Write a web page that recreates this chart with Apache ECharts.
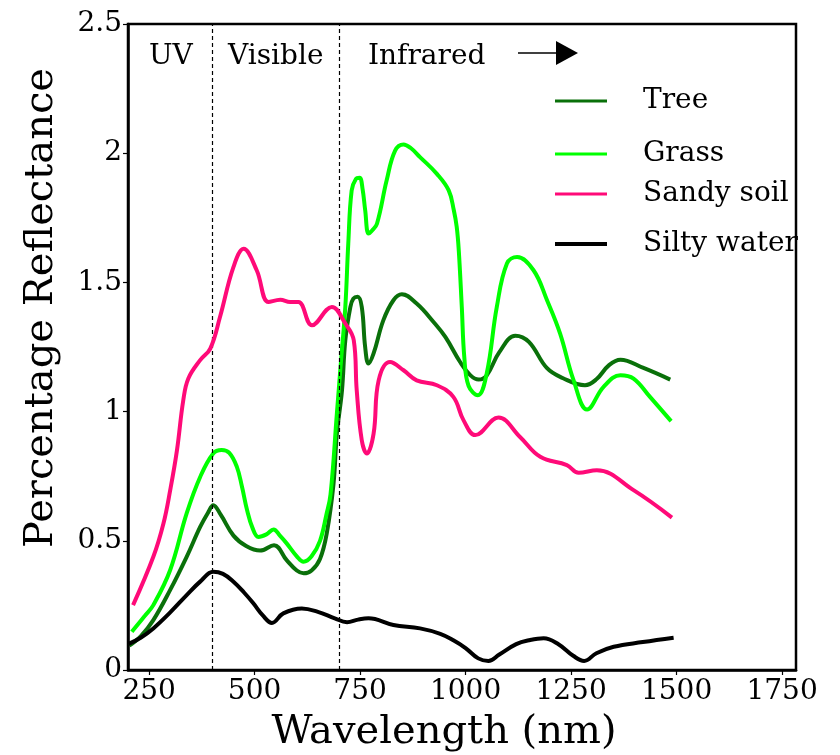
<!DOCTYPE html>
<html>
<head>
<meta charset="utf-8">
<script src="https://cdn.jsdelivr.net/npm/echarts@6/dist/echarts.min.js"></script>
<style>html,body{margin:0;padding:0;background:#fff}#c{width:840px;height:755px}</style>
</head>
<body>
<div id="c"></div>
<script>
const seriesNames = ['Tree', 'Grass', 'Sandy soil', 'Silty water'];
const seriesColors = ['#0a700a', '#00ff00', '#ff0a78', '#000000'];
const xTickValues = [250, 500, 750, 1000, 1250, 1500, 1750];
const yTickValues = [0, 0.5, 1, 1.5, 2, 2.5];
const regionLines = [400, 700];
const regionLabels = ['UV', 'Visible', 'Infrared'];

const treeWl = [203,230,260,300,339,371,390,402,420,450,480,513,546,576,600,616,635,655,671,687,695,707,715,727,734,744,754,762,770,782,805,829,849,884,924,952,987,1011,1031,1050,1080,1118,1150,1193,1230,1283,1310,1340,1367,1420,1485];
const treeVal = [0.094,0.13,0.193,0.31,0.438,0.554,0.61,0.638,0.6,0.52,0.48,0.462,0.483,0.425,0.385,0.374,0.385,0.43,0.529,0.72,0.915,1.08,1.276,1.405,1.437,1.444,1.405,1.25,1.186,1.225,1.353,1.431,1.454,1.418,1.347,1.289,1.192,1.141,1.124,1.14,1.23,1.294,1.27,1.168,1.13,1.102,1.125,1.18,1.201,1.17,1.124];

const grassWl = [209,240,260,300,339,371,402,422,440,458,470,482,495,509,528,545,560,576,600,616,635,655,670,680,695,705,715,722,730,740,749,756,762,770,778,790,813,833,853,870,892,932,960,972,979,984,991,997,1007,1029,1050,1074,1098,1122,1161,1193,1224,1256,1288,1327,1367,1398,1437,1487];
const grassVal = [0.148,0.21,0.251,0.387,0.606,0.747,0.838,0.851,0.84,0.786,0.71,0.62,0.55,0.515,0.525,0.544,0.52,0.49,0.44,0.419,0.44,0.5,0.6,0.68,0.993,1.2,1.405,1.65,1.856,1.9,1.905,1.86,1.78,1.689,1.7,1.727,1.895,2.01,2.034,2.02,1.985,1.92,1.856,1.78,1.714,1.62,1.405,1.21,1.1,1.063,1.147,1.405,1.573,1.598,1.547,1.431,1.302,1.121,1.008,1.096,1.141,1.128,1.057,0.963];

const soilWl = [212,260,284,300,316,331,343,371,395,418,450,474,505,533,561,584,604,636,683,715,735,742,754,766,782,794,821,853,884,932,971,995,1023,1078,1129,1177,1240,1268,1311,1398,1489];
const soilVal = [0.251,0.438,0.567,0.696,0.85,1.044,1.128,1.199,1.244,1.366,1.56,1.63,1.547,1.424,1.433,1.424,1.424,1.334,1.405,1.341,1.276,1.083,0.889,0.838,0.915,1.121,1.192,1.16,1.121,1.102,1.057,0.967,0.909,0.977,0.902,0.825,0.793,0.763,0.773,0.696,0.59];

const waterWl = [200,230,260,300,339,371,402,425,450,475,497,520,541,568,612,650,690,719,745,770,829,892,940,971,1000,1030,1054,1080,1120,1150,1185,1220,1255,1281,1310,1351,1420,1493];
const waterVal = [0.1,0.125,0.161,0.223,0.29,0.342,0.38,0.372,0.342,0.3,0.258,0.21,0.182,0.219,0.238,0.225,0.2,0.185,0.195,0.2,0.174,0.161,0.14,0.115,0.085,0.045,0.035,0.06,0.1,0.115,0.123,0.1,0.055,0.035,0.065,0.09,0.108,0.125];

const wls = [treeWl, grassWl, soilWl, waterWl];
const vals = [treeVal, grassVal, soilVal, waterVal];

const FONT = 'DejaVu Serif';
const chart = echarts.init(document.getElementById('c'), null, {renderer: 'canvas'});

const series = seriesNames.map((name, i) => ({
  name: name,
  type: 'line',
  smooth: 0.4,
  showSymbol: false,
  symbol: 'none',
  data: wls[i].map((x, k) => [x, vals[i][k]]),
  lineStyle: {color: seriesColors[i], width: 4},
  itemStyle: {color: seriesColors[i]},
  z: 3 + i,
  animation: false
}));

series.push({
  name: 'regions',
  type: 'line',
  data: [],
  markLine: {
    silent: true,
    symbol: ['none', 'none'],
    label: {show: false},
    lineStyle: {color: '#000', type: [4, 3], width: 1.2},
    data: regionLines.map(v => ({xAxis: v}))
  },
  animation: false
});

const legendTops = [96, 149, 189, 239];
const legends = seriesNames.map((name, i) => ({
  data: [{name: name, icon: 'rect', itemStyle: {color: seriesColors[i]}}],
  left: 550,
  top: legendTops[i] - 15,
  itemWidth: 52,
  itemHeight: i === 3 ? 4 : 3,
  orient: 'vertical',
  selectedMode: false,
  textStyle: {fontFamily: FONT, fontSize: 28, color: '#000', lineHeight: 30, padding: [0, 0, 0, 31]}
}));

chart.setOption({
  animation: false,
  backgroundColor: '#fff',
  grid: {left: 128, right: 44, top: 24, bottom: 85, show: true, borderColor: '#000', borderWidth: 2.5, backgroundColor: 'transparent'},
  legend: legends,
  xAxis: {
    type: 'value', min: 200, max: 1783,
    axisLine: {show: true, lineStyle: {color: '#000', width: 2.5}},
    axisTick: {show: true, customValues: xTickValues, length: 5, lineStyle: {color: '#000', width: 1.2}},
    axisLabel: {customValues: xTickValues, fontFamily: FONT, fontSize: 28, color: '#000', margin: 8, formatter: v => String(v)},
    splitLine: {show: false}
  },
  yAxis: {
    type: 'value', min: 0, max: 2.5, interval: 0.5,
    axisLine: {show: true, lineStyle: {color: '#000', width: 2.5}},
    axisTick: {show: true, length: 5, lineStyle: {color: '#000', width: 1.2}},
    axisLabel: {fontFamily: FONT, fontSize: 28, color: '#000', margin: 6, formatter: v => String(v)},
    splitLine: {show: false}
  },
  graphic: [
    {type: 'text', left: 149, top: 43, style: {text: regionLabels[0], font: '28px "DejaVu Serif"', fill: '#000'}},
    {type: 'text', left: 228, top: 43, style: {text: regionLabels[1], font: '28px "DejaVu Serif"', fill: '#000'}},
    {type: 'text', left: 368, top: 43, style: {text: regionLabels[2], font: '28px "DejaVu Serif"', fill: '#000'}},
    {type: 'line', shape: {x1: 518, y1: 53, x2: 560, y2: 53}, style: {stroke: '#000', lineWidth: 1.6}},
    {type: 'polygon', shape: {points: [[556, 41], [578, 53], [556, 65]]}, style: {fill: '#000'}},
    {type: 'text', x: 444, y: 733, style: {text: 'Wavelength (nm)', font: '40px "DejaVu Serif"', fill: '#000', align: 'center', verticalAlign: 'middle'}},
    {type: 'text', x: 42, y: 308, rotation: Math.PI / 2, style: {text: 'Percentage Reflectance', font: '40px "DejaVu Serif"', fill: '#000', align: 'center', verticalAlign: 'middle'}}
  ],
  series: series
});
</script>
</body>
</html>
